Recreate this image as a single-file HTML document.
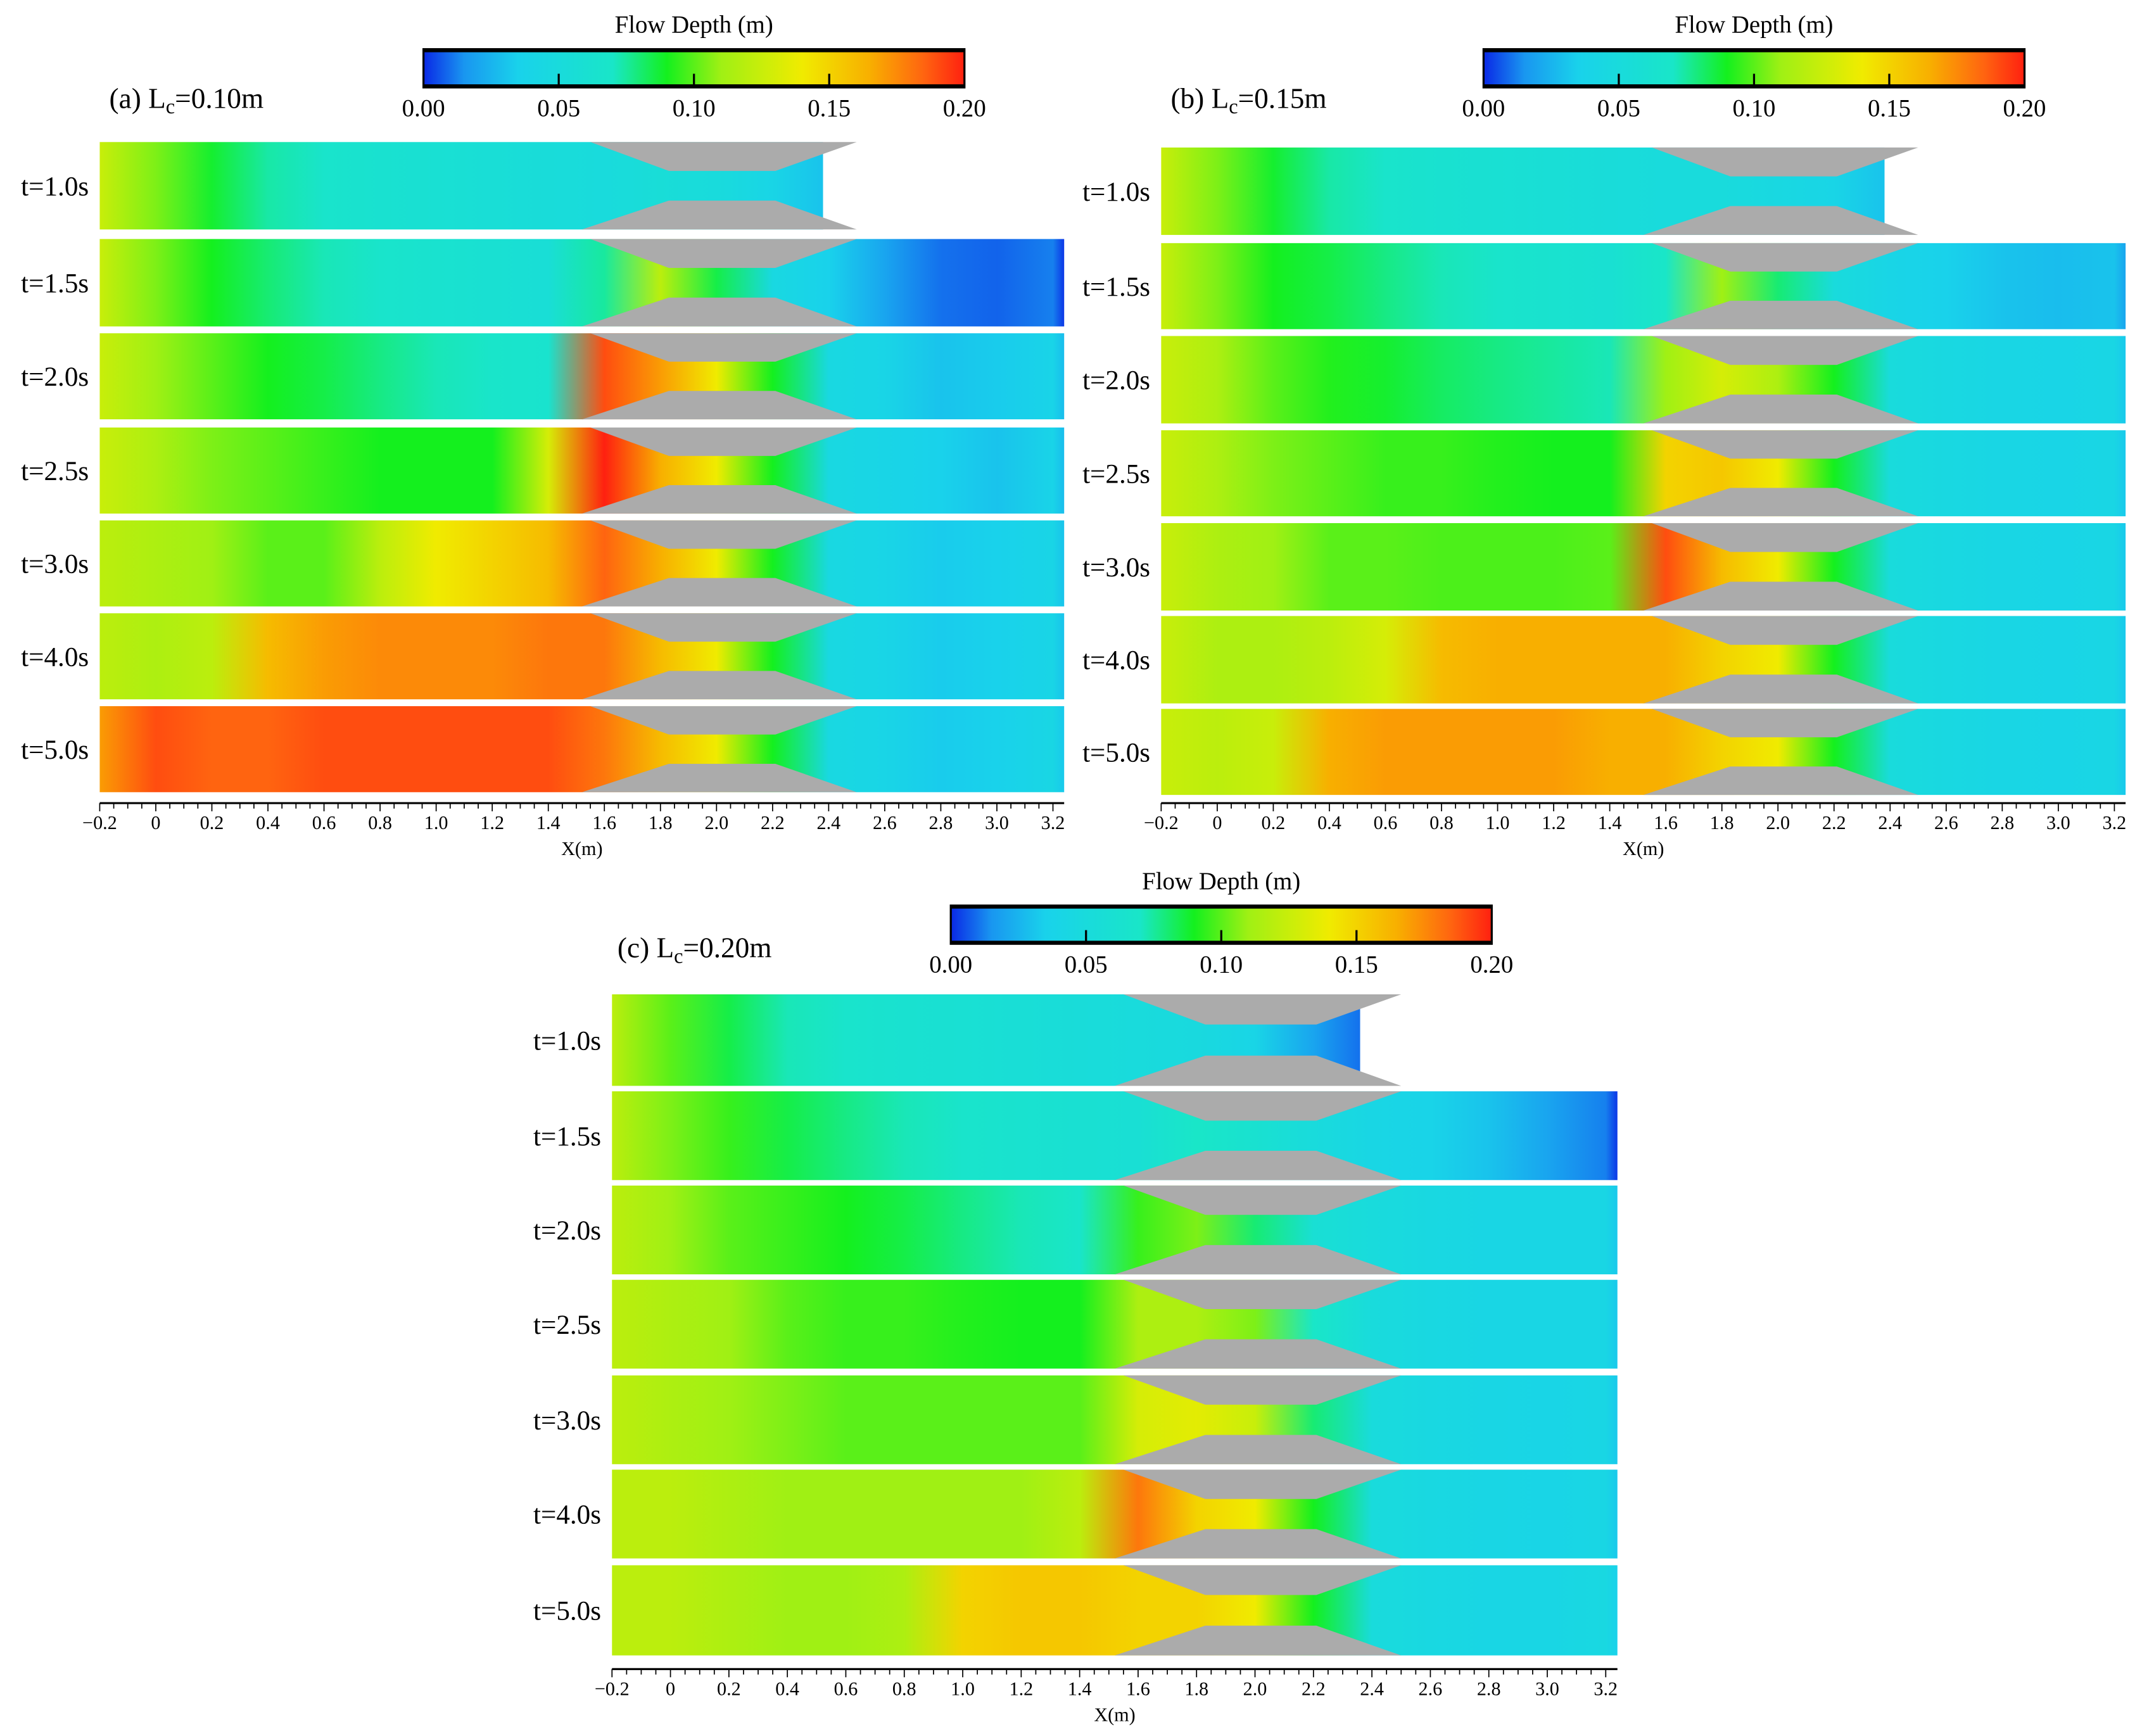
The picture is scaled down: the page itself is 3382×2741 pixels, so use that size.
<!DOCTYPE html>
<html><head><meta charset="utf-8"><style>
html,body{margin:0;padding:0;background:#fff;}
svg{display:block;font-family:"Liberation Serif",serif;}
</style></head><body>
<svg id="fig" width="3382" height="2741" viewBox="0 0 1568 1271" preserveAspectRatio="none" xmlns="http://www.w3.org/2000/svg">
<defs id="defs"></defs>
</svg>
<script>
// ---- data ----
const xGrid = [-0.2,0,0.2,0.4,0.6,0.8,1.0,1.2,1.4,1.6,1.8,2.0,2.2,2.4,2.6,2.8,3.0,3.2];
const timeLabels = ["t=1.0s","t=1.5s","t=2.0s","t=2.5s","t=3.0s","t=4.0s","t=5.0s"];
const colorTicks = [0.00,0.05,0.10,0.15,0.20];
const axisTicks = [-0.2,0,0.2,0.4,0.6,0.8,1.0,1.2,1.4,1.6,1.8,2.0,2.2,2.4,2.6,2.8,3.0,3.2];
const wetEndA = [2.38,3.25,3.25,3.25,3.25,3.25,3.25];
const wetEndB = [2.38,3.25,3.25,3.25,3.25,3.25,3.25];
const wetEndC = [2.36,3.25,3.25,3.25,3.25,3.25,3.25];
const depthA = [
 [.125,.105,.088,.074,.067,.062,.059,.056,.053,.05,.055,.05,.04,.015,null,null,null,null],
 [.125,.105,.09,.08,.072,.067,.063,.06,.056,.075,.12,.085,.045,.035,.02,.01,.008,.012],
 [.125,.11,.1,.09,.085,.078,.072,.068,.064,.19,.17,.14,.09,.045,.04,.03,.033,.038],
 [.125,.115,.105,.1,.095,.09,.09,.09,.13,.2,.165,.14,.09,.045,.04,.035,.03,.038],
 [.12,.115,.11,.1,.1,.12,.14,.15,.16,.185,.165,.14,.09,.045,.04,.033,.035,.04],
 [.12,.115,.12,.16,.17,.175,.175,.175,.18,.18,.16,.14,.09,.045,.04,.033,.035,.04],
 [.17,.19,.185,.185,.19,.19,.19,.19,.19,.18,.16,.14,.09,.045,.04,.033,.035,.042]
];
const depthB = [
 [.125,.105,.088,.074,.067,.062,.059,.056,.053,.05,.05,.045,.04,.025,null,null,null,null],
 [.125,.105,.09,.085,.078,.072,.067,.063,.06,.07,.11,.08,.05,.04,.035,.03,.028,.03],
 [.125,.115,.1,.092,.088,.082,.078,.075,.072,.11,.13,.115,.09,.05,.045,.042,.04,.042],
 [.125,.115,.105,.1,.095,.095,.092,.09,.09,.15,.155,.14,.09,.05,.045,.042,.04,.042],
 [.125,.115,.11,.1,.1,.098,.098,.098,.1,.19,.16,.14,.09,.05,.045,.042,.04,.042],
 [.125,.115,.115,.12,.13,.16,.165,.165,.165,.165,.15,.14,.09,.05,.045,.042,.04,.042],
 [.125,.12,.125,.165,.17,.17,.17,.17,.165,.165,.15,.14,.09,.05,.045,.042,.04,.042]
];
const depthC = [
 [.12,.1,.085,.072,.066,.062,.059,.056,.053,.05,.048,.04,.02,.012,null,null,null,null],
 [.12,.105,.095,.085,.078,.072,.067,.063,.06,.058,.07,.062,.05,.042,.038,.03,.02,.012],
 [.12,.11,.1,.095,.09,.085,.078,.072,.068,.095,.105,.08,.058,.05,.045,.042,.042,.042],
 [.12,.115,.11,.1,.095,.095,.092,.09,.09,.115,.115,.105,.07,.05,.045,.042,.042,.042],
 [.12,.115,.11,.105,.1,.1,.1,.1,.1,.13,.135,.125,.08,.05,.045,.042,.04,.042],
 [.12,.12,.115,.11,.11,.11,.11,.11,.12,.18,.15,.14,.09,.05,.045,.042,.04,.042],
 [.12,.12,.115,.11,.11,.115,.15,.155,.155,.15,.15,.14,.09,.05,.045,.042,.042,.045]
];

// ---- colormap ----
const cmV=[0,0.015,0.035,0.07,0.09,0.11,0.14,0.165,0.185,0.2];
const cmC=[[10,40,230],[25,150,240],[25,210,235],[25,230,200],[20,240,30],[160,240,20],[240,235,0],[248,175,0],[255,100,16],[255,32,16]];
function cmap(v){
  v=Math.max(0,Math.min(0.2,v));
  for(let i=0;i<cmV.length-1;i++){
    if(v<=cmV[i+1]){const t=(v-cmV[i])/(cmV[i+1]-cmV[i]);
      const c=cmC[i].map((a,k)=>Math.round(a+(cmC[i+1][k]-a)*t));
      return `rgb(${c[0]},${c[1]},${c[2]})`;}
  }
  return 'rgb(255,32,16)';
}
const NS="http://www.w3.org/2000/svg";
const svg=document.getElementById('fig');
const defs=document.getElementById('defs');
function mk(tag,attrs,parent){const e=document.createElementNS(NS,tag);for(const k in attrs)e.setAttribute(k,attrs[k]);(parent||svg).appendChild(e);return e;}
let gid=0;

function panel(p){
  const g=mk('g',{});
  
  
  const X=v=>p.x0+(v-p.xmin)/(p.xmax-p.xmin)*(p.x1-p.x0);
  const cg=mk('linearGradient',{id:'cb'+p.key,x1:0,x2:1,y1:0,y2:0},defs);
  for(let i=0;i<=40;i++){mk('stop',{offset:i/40,'stop-color':cmap(0.2*i/40)},cg);}
  const cb=mk('rect',{x:p.cbx,y:p.cby,width:396,height:28,fill:`url(#cb${p.key})`,stroke:'#000','stroke-width':1.5},g);
  
  
  mk('line',{x1:p.cbx,x2:p.cbx+396,y1:p.cby+1,y2:p.cby+1,stroke:'#000','stroke-width':2.5},g);
  mk('line',{x1:p.cbx,x2:p.cbx+396,y1:p.cby+27,y2:p.cby+27,stroke:'#000','stroke-width':2.5},g);
  const ct=mk('text',{x:p.cbx+198,y:p.cby-12,'font-size':18,'text-anchor':'middle'},g);
  ct.textContent='Flow Depth (m)';
  
  
  colorTicks.forEach(v=>{
    const tx=p.cbx+v/0.2*396;
    if(v>0&&v<0.2)mk('line',{x1:tx,x2:tx,y1:p.cby+28,y2:p.cby+18,stroke:'#000','stroke-width':1.5},g);
    const t=mk('text',{x:tx,y:p.cby+49,'font-size':18,'text-anchor':'middle'},g);
    t.textContent=v.toFixed(2);
    
    
  });
  const pl=mk('text',{x:p.lx,y:p.ly,'font-size':21},g);
  pl.innerHTML=`(${p.key}) L<tspan font-size="15" dy="4">c</tspan><tspan dy="-4">=${p.lc}</tspan>`;
  
  
  p.rows.forEach((r,i)=>{
    const [top,bot]=r;const h=bot-top;
    const d=p.depth[i];const we=p.wet[i];
    const gr=mk('linearGradient',{id:'g'+(gid++),x1:0,x2:1,y1:0,y2:0},defs);
    const span=p.xmax-p.xmin;
    let lastV=d[0];
    xGrid.forEach((xv,k)=>{
      if(d[k]===null||xv>we)return;
      lastV=d[k];
      mk('stop',{offset:(xv-p.xmin)/span,'stop-color':cmap(d[k])},gr);
    });
    const wOff=Math.min(1,(we-p.xmin)/span);
    mk('stop',{offset:wOff,'stop-color':cmap(Math.max(0,lastV-0.01))},gr);
    if(wOff<1){mk('stop',{offset:wOff,'stop-color':'#fff'},gr);mk('stop',{offset:1,'stop-color':'#fff'},gr);}
    const rr=mk('rect',{x:p.x0,y:top,width:p.x1-p.x0,height:h,fill:`url(#${gr.id})`},g);
    
    
    const ty=top+h*0.33, by=bot-h*0.33;
    const wt=mk('polygon',{points:`${X(1.55)},${top} ${X(2.5)},${top} ${X(2.21)},${ty} ${X(1.83)},${ty}`,fill:'#ababab'},g);
    
    
    const wb=mk('polygon',{points:`${X(1.52)},${bot} ${X(2.5)},${bot} ${X(2.21)},${by} ${X(1.83)},${by}`,fill:'#ababab'},g);
    
    
    const tl=mk('text',{x:p.x0-8,y:(top+bot)/2+7,'font-size':20,'text-anchor':'end'},g);
    tl.textContent=timeLabels[i];
    
    
  });
  const ay=p.ay;
  const ax=mk('line',{x1:p.x0,x2:p.x1,y1:ay,y2:ay,stroke:'#000','stroke-width':1.5},g);
  
  
  for(let v=-0.2;v<=3.24;v+=0.05){
    const major=Math.abs(Math.round(v/0.2)*0.2-v)<1e-6;
    mk('line',{x1:X(v),x2:X(v),y1:ay,y2:ay+(major?6:4),stroke:'#000','stroke-width':0.8},g);
  }
  axisTicks.forEach(v=>{
    const t=mk('text',{x:X(v),y:ay+19,'font-size':14,'text-anchor':'middle'},g);
    t.textContent=(v===0?'0':(v<0?'\u22120.2':v.toFixed(1)));
    
    
  });
  const xt=mk('text',{x:(p.x0+p.x1)/2,y:ay+38,'font-size':14,'text-anchor':'middle'},g);
  xt.textContent='X(m)';
  
  
}
panel({key:'a',lc:'0.10m',x0:73,x1:779,xmin:-0.2,xmax:3.24,cbx:310,cby:36,lx:80,ly:79,ay:588,depth:depthA,wet:wetEndA,
  rows:[[104,168],[175,239],[244,307],[313,376],[381,444],[449,512],[517,580]]});
panel({key:'b',lc:'0.15m',x0:850,x1:1556,xmin:-0.2,xmax:3.24,cbx:1086,cby:36,lx:857,ly:79,ay:588,depth:depthB,wet:wetEndB,
  rows:[[108,172],[178,241],[246,310],[315,378],[383,447],[451,515],[519,582]]});
panel({key:'c',lc:'0.20m',x0:448,x1:1184,xmin:-0.2,xmax:3.24,cbx:696,cby:663,lx:452,ly:701,ay:1222,depth:depthC,wet:wetEndC,
  rows:[[728,795],[799,864],[868,933],[937,1002],[1007,1072],[1076,1141],[1146,1212]]});
</script>
</body></html>
